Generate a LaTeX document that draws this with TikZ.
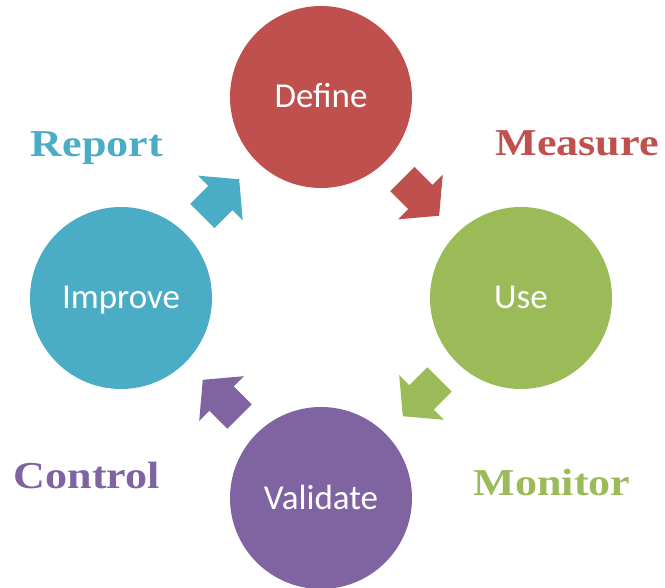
\documentclass[tikz,border=0pt]{standalone}
\usepackage{fontspec}
\usepackage{tikz}
\usetikzlibrary{calc,shapes.arrows}
\setsansfont{Carlito}
\newfontfamily\labelfont[FakeStretch=1.16]{Liberation Serif}
\definecolor{definered}{RGB}{192,80,77}
\definecolor{usegreen}{RGB}{155,187,89}
\definecolor{validatepurple}{RGB}{128,100,162}
\definecolor{improvecyan}{RGB}{75,172,198}
\tikzstyle{phase}=[circle,minimum size=182pt,inner sep=0pt,text=white,
                   font=\sffamily\fontsize{35}{40}\selectfont,
                   text height=22pt,text depth=0pt]
\tikzstyle{flow}=[single arrow,minimum height=52pt,minimum width=63pt,
                  single arrow head extend=14.5pt,single arrow tip angle=100,
                  inner xsep=0pt,inner ysep=17pt,anchor=tip]
\tikzstyle{phaselabel}=[anchor=base,inner sep=0pt,
                        font=\labelfont\bfseries\fontsize{38}{40}\selectfont]
\newcommand\tipreach{26pt}

\begin{document}
\begin{tikzpicture}[x=1pt,y=1pt]
    \useasboundingbox (0,0) rectangle (665,-588);
    % the four phases of the cycle
    \node [phase,fill=definered] (define) at (321,-97) {Define};
    \node [phase,fill=usegreen] (use) at (521,-298) {Use};
    \node [phase,fill=validatepurple] (validate) at (321,-498) {Validate};
    \node [phase,fill=improvecyan] (improve) at (121,-298) {Improve};
    % block arrows half way between two phases
    \coordinate (du) at ($(define)!0.5!(use)$);
    \coordinate (uv) at ($(use)!0.5!(validate)$);
    \coordinate (vi) at ($(validate)!0.5!(improve)$);
    \coordinate (id) at ($(improve)!0.5!(define)$);
    \node [flow,fill=definered,rotate=-45] (define to use)
        at ($(du)!\tipreach!(use)$) {};
    \node [flow,fill=usegreen,rotate=-135] (use to validate)
        at ($(uv)!\tipreach!(validate)$) {};
    \node [flow,fill=validatepurple,rotate=135] (validate to improve)
        at ($(vi)!\tipreach!(improve)$) {};
    \node [flow,fill=improvecyan,rotate=45] (improve to define)
        at ($(id)!\tipreach!(define)$) {};
    % words beside the arrows
    \node [phaselabel,text=improvecyan] (report) at (97,-157) {Report};
    \node [phaselabel,text=definered] (measure) at (577,-156) {Measure};
    \node [phaselabel,text=usegreen] (monitor) at (552,-495) {Monitor};
    \node [phaselabel,text=validatepurple] (control) at (87,-489) {Control};
\end{tikzpicture}
\end{document}
